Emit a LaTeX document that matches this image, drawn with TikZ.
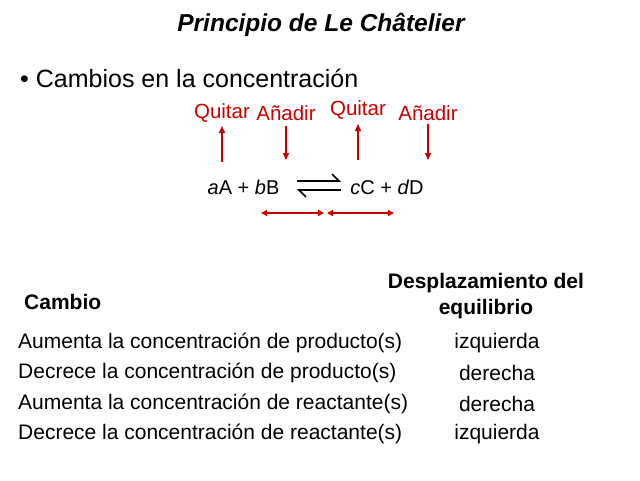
\documentclass[tikz,border=0pt]{standalone}
\usepackage{fontspec}
\setmainfont{Liberation Sans}
\usetikzlibrary{arrows.meta}
\definecolor{rd}{RGB}{204,0,0}
\begin{document}
\begin{tikzpicture}[x=1pt,y=-1pt,
  txt/.style={font=\fontsize{21}{24}\selectfont,inner sep=0},
  lbl/.style={font=\fontsize{20.5}{24}\selectfont,text=rd,inner sep=0},
  bold/.style={font=\fontsize{21}{26}\selectfont\bfseries,inner sep=0,align=center},
  rarr/.style={draw=rd,line width=1.5pt,-{Triangle[length=7pt,width=6pt]}},
  darr/.style={draw=rd,line width=1.5pt,{Triangle[length=6pt,width=6pt]}-{Triangle[length=6pt,width=6pt]}},
  harp/.style={line width=1.6pt}]
\useasboundingbox (0,0) rectangle (640,480);
\node[font=\fontsize{24.5}{28}\selectfont\bfseries\itshape,inner sep=0] (title) at (321,25) {Principio de Le Châtelier};
\node[font=\fontsize{25}{28}\selectfont,inner sep=0,anchor=west] (bul) at (20,78) {\textbullet\ Cambios en la concentración};
\node[lbl] (q1) at (222,113) {Quitar};
\node[lbl] (a1) at (286,113) {Añadir};
\node[lbl] (q2) at (358,110) {Quitar};
\node[lbl] (a2) at (428,113) {Añadir};
\node[txt,font=\fontsize{20}{24}\selectfont] (lhs) at (243.5,187) {\textit{a}A + \textit{b}B};
\node[txt,font=\fontsize{20}{24}\selectfont] (rhs) at (387,187) {\textit{c}C + \textit{d}D};
\coordinate (q1b) at (222,162); \coordinate (a1b) at (286,160);
\coordinate (q2b) at (358,160); \coordinate (a2b) at (428,160);
\draw[rarr] (q1b) -- (222,126);
\draw[rarr] (286,126) -- (a1b);
\draw[rarr] (q2b) -- (358,124);
\draw[rarr] (428,124) -- (a2b);
\draw[harp,-{Straight Barb[left,length=7pt]}] (297,181) -- (341,181);
\draw[harp,-{Straight Barb[left,length=7pt]}] (341,190) -- (297,190);
\draw[darr] (261,213) -- (324,213);
\draw[darr] (327,213) -- (394,213);
\node[bold,anchor=west] (cambio) at (24,302) {Cambio};
\node[bold] (desp) at (486,296) {Desplazamiento del\\equilibrio};
\foreach \y/\l/\r [count=\i] in {343/Aumenta la concentración de producto(s)/izquierda,
  373/Decrece la concentración de producto(s)/derecha,
  404/Aumenta la concentración de reactante(s)/derecha,
  434/Decrece la concentración de reactante(s)/izquierda}{
  \node[txt,anchor=west] (l\i) at (18,\y) {\l};
  \node[txt] (r\i) at (497,\y) {\r};
}
\end{tikzpicture}
\end{document}
